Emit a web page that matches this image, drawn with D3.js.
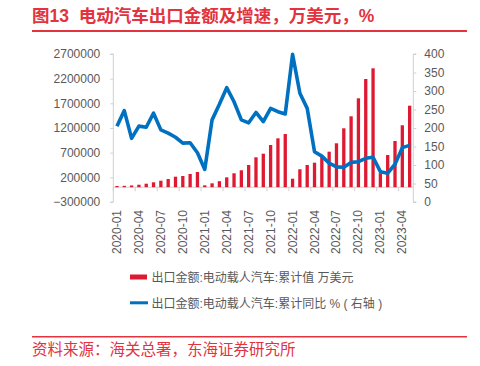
<!DOCTYPE html>
<html><head><meta charset="utf-8">
<script src="https://cdn.jsdelivr.net/npm/d3@7"></script>
<style>body{margin:0;background:#fff}svg{display:block}</style>
</head><body>
<script>
const months = [];
for (const y of [2020, 2021, 2022, 2023]) for (let m = 1; m <= 12; m++) {
  if (y === 2023 && m > 5) break;
  months.push(y + "-" + String(m).padStart(2, "0"));
}
const barValues = [
  24000, 28000, 35000, 50000, 71000, 99000, 132000, 166000, 213000, 227000, 268000, 308000,
  38500, 79000, 122000, 200000, 282000, 343000, 450000, 606000, 679000, 855000, 991000, 1078000,
  172000, 363000, 450000, 497000, 618000, 720000, 890000, 1194000, 1437000, 1802000, 2193000, 2410000,
  285000, 653000, 937000, 1255000, 1652000
];
const lineValues = [
  205, 247, 172, 205, 202, 240, 195, 186, 175, 159, 160, 133,
  88, 222, 264, 309, 271, 222, 214, 242, 217, 253, 244, 238,
  399, 294, 253, 136, 124, 105, 95, 94, 107, 109, 118, 121,
  82, 78, 102, 147, 153
];
const leftTicks = [-300000, 200000, 700000, 1200000, 1700000, 2200000, 2700000];
const rightTicks = [0, 50, 100, 150, 200, 250, 300, 350, 400];
const labelMonths = months.filter((d, i) => i % 3 === 0);
const legendLabels = ["出口金额:电动载人汽车:累计值 万美元", "出口金额:电动载人汽车:累计同比 % ( 右轴 )"];
const titleText = "图13\u00a0\u00a0电动汽车出口金额及增速，万美元，%";
const sourceText = "资料来源：海关总署，东海证券研究所";

const W = 480, H = 366;
const red = "#DE1A32", blue = "#0070C0", grey = "#595959", axisCol = "#D0D0D0", titleRed = "#E2333F";
const FONT = "'Liberation Sans', 'Noto Sans CJK SC', sans-serif";

const svg = d3.select("body").append("svg").attr("width", W).attr("height", H)
  .style("font-family", FONT);

const x = d3.scaleBand().domain(months).range([113.3, 413.3]).paddingInner(0).paddingOuter(0);
const yL = d3.scaleLinear().domain([-300000, 2700000]).range([202, 54]);
const yR = d3.scaleLinear().domain([0, 400]).range([202, 54]);

// title
svg.append("text").attr("x", 32).attr("y", 22).attr("fill", titleRed)
  .attr("font-size", 17.5).attr("font-weight", "bold").text(titleText);
svg.append("line").attr("x1", 32).attr("x2", 467).attr("y1", 31).attr("y2", 31)
  .attr("stroke", titleRed).attr("stroke-width", 2);

// left axis
const gL = svg.append("g").attr("transform", "translate(113.3,0)")
  .call(d3.axisLeft(yL).tickValues(leftTicks).tickSize(3).tickPadding(10).tickFormat(d3.format("d")));
gL.select(".domain").attr("stroke", axisCol).attr("d", "M-3,202H0V54H-3");
gL.selectAll(".tick line").attr("stroke", axisCol);
gL.selectAll(".tick text").attr("fill", grey).attr("font-size", 12).attr("font-family", FONT);

// right axis
const gR = svg.append("g").attr("transform", "translate(413.3,0)")
  .call(d3.axisRight(yR).tickValues(rightTicks).tickSize(3).tickPadding(8));
gR.select(".domain").attr("stroke", axisCol).attr("d", "M3,202H0V54H3");
gR.selectAll(".tick line").attr("stroke", axisCol);
gR.selectAll(".tick text").attr("fill", grey).attr("font-size", 12).attr("font-family", FONT);

// x axis at zero
const y0 = yL(0);
svg.append("line").attr("x1", 113.3).attr("x2", 413.3).attr("y1", y0).attr("y2", y0)
  .attr("stroke", axisCol).attr("stroke-width", 1);
const tickIdx = d3.range(0, months.length + 1, 3);
svg.append("g").selectAll("line").data(tickIdx).join("line")
  .attr("x1", i => x.range()[0] + i * x.step()).attr("x2", i => x.range()[0] + i * x.step())
  .attr("y1", y0).attr("y2", y0 + 4).attr("stroke", axisCol);

svg.append("g").selectAll("text").data(labelMonths).join("text")
  .attr("transform", d => `translate(${x(d) + x.bandwidth() / 2 + 4},210) rotate(-90)`)
  .attr("text-anchor", "end").attr("fill", grey).attr("font-size", 12).text(d => d);

// bars
const bw = 3.3;
svg.append("g").selectAll("rect").data(months).join("rect")
  .attr("x", (d) => x(d) + x.bandwidth() / 2 - bw / 2)
  .attr("width", bw)
  .attr("y", (d, i) => Math.min(yL(barValues[i]), y0))
  .attr("height", (d, i) => Math.abs(yL(barValues[i]) - y0))
  .attr("fill", red);

// line
const line = d3.line().x((d, i) => x(months[i]) + x.bandwidth() / 2).y(d => yR(d));
svg.append("path").datum(lineValues).attr("d", line).attr("fill", "none")
  .attr("stroke", blue).attr("stroke-width", 3.6).attr("stroke-linejoin", "round");

// legend
svg.append("rect").attr("x", 130).attr("y", 274.5).attr("width", 17).attr("height", 5).attr("fill", red);
svg.append("rect").attr("x", 130).attr("y", 301.3).attr("width", 18).attr("height", 3).attr("fill", blue);
svg.append("text").attr("x", 151.5).attr("y", 281.5).attr("fill", grey).attr("font-size", 12).text(legendLabels[0]);
svg.append("text").attr("x", 151.5).attr("y", 307.5).attr("fill", grey).attr("font-size", 12)
  .attr("xml:space", "preserve").text(legendLabels[1]);

// source
svg.append("line").attr("x1", 32).attr("x2", 467).attr("y1", 336.7).attr("y2", 336.7)
  .attr("stroke", titleRed).attr("stroke-width", 1.5);
svg.append("text").attr("x", 32).attr("y", 355).attr("fill", titleRed)
  .attr("font-size", 15.5).text(sourceText);
</script>
</body></html>
